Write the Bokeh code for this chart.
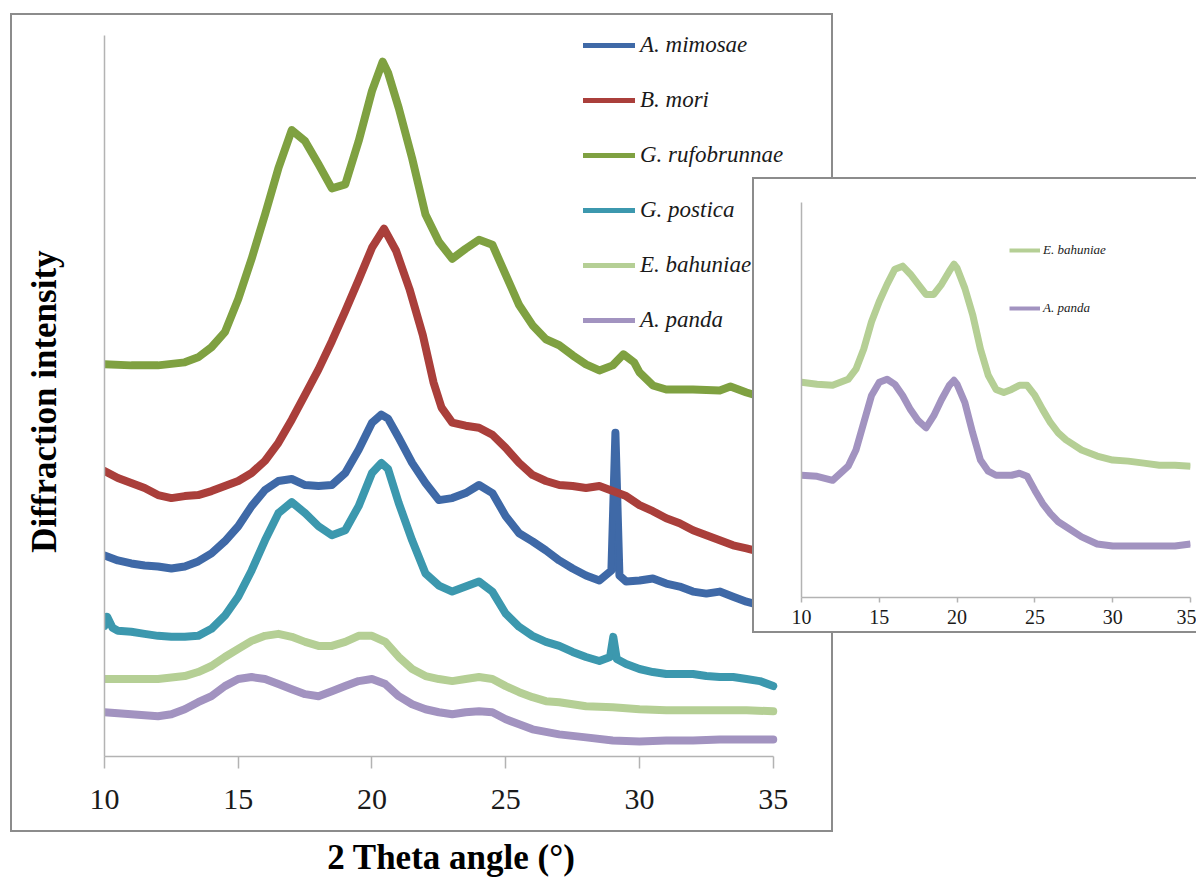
from bokeh.plotting import figure
from bokeh.models import Range1d, FixedTicker, Legend, LegendItem, Div
from bokeh.embed import file_html
from bokeh.resources import INLINE

FONT = "Liberation Serif"

# ---------------- main chart data (2 theta in degrees, intensity in a.u.) ----------------
mimosae_x = [10, 10.5, 11, 11.5, 12, 12.5, 13, 13.5, 14, 14.5, 15, 15.5, 16, 16.5, 17, 17.5, 18, 18.5,
             19, 19.5, 20, 20.35, 20.6, 21, 21.5, 22, 22.5, 23, 23.5, 24, 24.5, 25, 25.5, 26, 26.5, 27,
             27.5, 28, 28.5, 28.95, 29.1, 29.25, 29.5, 30, 30.5, 31, 31.5, 32, 32.5, 33, 33.5, 34, 35]
mimosae_y = [200, 195, 192, 190, 189, 187, 189, 194, 202, 214, 229, 249, 265, 274, 276, 270, 269, 270,
             282, 305, 332, 340, 336, 317, 292, 272, 255, 257, 262, 270, 262, 239, 222, 214, 205, 195,
             187, 180, 175, 185, 322, 180, 174, 175, 177, 172, 169, 164, 162, 164, 159, 154, 147]

mori_x = [10, 10.5, 11, 11.5, 12, 12.5, 13, 13.5, 14, 14.5, 15, 15.5, 16, 16.5, 17, 17.5, 18, 18.5, 19,
          19.5, 20, 20.45, 20.9, 21.4, 21.9, 22.3, 22.6, 23, 23.5, 24, 24.5, 25, 25.5, 26, 26.5, 27, 27.5,
          28, 28.5, 29, 29.5, 30, 30.5, 31, 31.5, 32, 32.5, 33, 33.5, 34, 35]
mori_y = [284, 277, 272, 267, 260, 257, 259, 260, 264, 269, 274, 282, 294, 312, 335, 360, 385, 413, 443,
          474, 506, 525, 503, 465, 419, 372, 347, 332, 329, 327, 320, 307, 292, 280, 274, 270, 269,
          267, 269, 264, 259, 250, 244, 237, 232, 225, 220, 215, 210, 207, 200]

rufobrunnae_x = [10, 11, 12, 13, 13.5, 14, 14.5, 15, 15.5, 16, 16.5, 17, 17.5, 18, 18.5, 19, 19.5, 20,
                 20.4, 20.6, 21, 21.5, 22, 22.5, 23, 23.5, 24, 24.5, 25, 25.5, 26, 26.5, 27, 27.5, 28,
                 28.5, 29, 29.4, 29.8, 30, 30.5, 31, 32, 33, 33.4, 34, 34.5, 35]
rufobrunnae_y = [390, 389, 389, 392, 397, 407, 422, 455, 495, 539, 585, 623, 612, 589, 565, 569, 612, 662,
                 691, 680, 645, 595, 539, 512, 495, 505, 514, 509, 479, 449, 429, 415, 409, 399, 390,
                 384, 389, 400, 392, 382, 369, 365, 365, 364, 368, 362, 358, 354]

postica_x = [10, 10.1, 10.3, 10.5, 11, 11.5, 12, 12.5, 13, 13.5, 14, 14.5, 15, 15.5, 16, 16.5, 17, 17.5,
             18, 18.5, 19, 19.5, 20, 20.35, 20.6, 21, 21.5, 22, 22.5, 23, 23.5, 24, 24.5, 25, 25.5, 26,
             26.5, 27, 27.5, 28, 28.5, 28.9, 29.02, 29.15, 29.5, 30, 30.5, 31, 31.5, 32, 32.5, 33, 33.5,
             34, 34.5, 35]
postica_y = [130, 139, 128, 125, 124, 122, 120, 119, 119, 120, 127, 140, 159, 185, 215, 242, 253, 242,
             229, 220, 225, 249, 282, 292, 286, 252, 215, 182, 170, 164, 169, 174, 164, 142, 129, 120,
             114, 110, 104, 99, 95, 99, 119, 97, 92, 87, 84, 82, 82, 82, 80, 79, 79,
             77, 75, 70]

bahuniae_x = [10, 11, 12, 13, 13.5, 14, 14.5, 15, 15.5, 16, 16.5, 17, 17.5, 18, 18.5, 19, 19.5, 20, 20.5,
              21, 21.5, 22, 22.5, 23, 23.5, 24, 24.5, 25, 25.5, 26, 26.5, 27, 28, 29, 30, 31, 32, 33, 34, 35]
bahuniae_y = [77, 77, 77, 80, 84, 90, 99, 107, 115, 120, 122, 119, 114, 110, 110, 114, 120, 120, 114,
              99, 87, 80, 77, 75, 77, 79, 77, 70, 64, 59, 55, 54, 50, 49, 47, 46, 46, 46, 46, 45]

panda_x = [10, 11, 12, 12.5, 13, 13.5, 14, 14.5, 15, 15.5, 16, 16.5, 17, 17.5, 18, 18.5, 19, 19.5, 20,
           20.5, 21, 21.5, 22, 22.5, 23, 23.5, 24, 24.5, 25, 25.5, 26, 27, 28, 29, 30, 31, 32, 33, 34, 35]
panda_y = [44, 42, 40, 42, 47, 54, 60, 70, 77, 79, 77, 72, 67, 62, 60, 65, 70, 75, 77,
           72, 60, 52, 47, 44, 42, 44, 45, 44, 37, 32, 27, 22, 19, 16, 15, 16, 16, 17, 17, 17]

# ---------------- inset data ----------------
inset_x = [10, 11, 12, 13, 13.5, 14, 14.5, 15, 15.5, 16, 16.5, 17, 17.5, 18, 18.5, 19, 19.5, 19.8, 20,
           20.5, 21, 21.5, 22, 22.5, 23, 23.5, 24, 24.5, 25, 25.5, 26, 26.5, 27, 28, 29, 30, 31, 32,
           33, 34, 35]
inset_bahuniae_y = [213, 211, 210, 216, 226, 246, 273, 293, 310, 325, 328, 320, 310, 300, 300, 310, 323,
                    330, 326, 306, 280, 246, 220, 206, 203, 206, 210, 210, 200, 186, 173, 163, 156, 146,
                    140, 136, 135, 133, 131, 131, 130]
inset_panda_y = [121, 120, 116, 130, 146, 173, 200, 213, 216, 211, 200, 186, 175, 168, 180, 196, 210,
                 215, 211, 193, 163, 136, 125, 121, 121, 121, 123, 120, 106, 93, 83, 75, 70, 60, 53, 51,
                 51, 51, 51, 51, 53]

x_ticks = [10, 15, 20, 25, 30, 35]

labels = ["A. mimosae", "B. mori", "G. rufobrunnae", "G. postica", "E. bahuniae", "A. panda"]
colors = ["#3f69a7", "#aa3f3b", "#7fa141", "#3c98ae", "#b5cf95", "#a293c0"]
series_x = [mimosae_x, mori_x, rufobrunnae_x, postica_x, bahuniae_x, panda_x]
series_y = [mimosae_y, mori_y, rufobrunnae_y, postica_y, bahuniae_y, panda_y]

AXIS_GREY = "#b3b3b3"
BOX = "2px solid #8c8c8c"

# the main frame is enlarged to the right and top (room for the legend);
# the axes themselves still span 10..35 and 0..717
MAIN_FRAME_W = 711
main_x_end = 10 + 25 * MAIN_FRAME_W / 665
MAIN_Y_TOP = 732


def style_axes(p, tick_size, tick_out, standoff):
    p.title.visible = False
    p.xgrid.grid_line_color = None
    p.ygrid.grid_line_color = None
    p.outline_line_color = None
    p.xaxis.ticker = FixedTicker(ticks=x_ticks)
    p.xaxis.bounds = (10, 35)
    p.xaxis.axis_line_color = AXIS_GREY
    p.xaxis.axis_line_width = 1.5
    p.xaxis.major_tick_line_color = AXIS_GREY
    p.xaxis.major_tick_line_width = 1.5
    p.xaxis.major_tick_in = 0
    p.xaxis.major_tick_out = tick_out
    p.xaxis.minor_tick_line_color = None
    p.xaxis.major_label_text_font = FONT
    p.xaxis.major_label_text_font_size = tick_size
    p.xaxis.major_label_text_color = "#1a1a1a"
    p.xaxis.major_label_standoff = standoff
    p.yaxis.ticker = FixedTicker(ticks=[])
    p.yaxis.axis_line_color = AXIS_GREY
    p.yaxis.axis_line_width = 1.5
    p.yaxis.major_tick_line_color = None
    p.yaxis.minor_tick_line_color = None


# ---------------- main figure ----------------
main = figure(width=823, height=819, output_backend="svg", toolbar_location=None,
              x_range=Range1d(10, main_x_end), y_range=Range1d(0, MAIN_Y_TOP),
              min_border_left=92, min_border_right=16, min_border_top=5, min_border_bottom=78,
              background_fill_color="white", border_fill_color="white",
              styles={"border": BOX}, margin=(13, 0, 0, 10))
style_axes(main, "30px", 12, 21)
main.yaxis.bounds = (0, 717)
# trailing no-break spaces move the centred title a little downwards, as in the original
main.yaxis.axis_label = "Diffraction intensity\u00a0\u00a0\u00a0"
main.yaxis.axis_label_text_font = FONT
main.yaxis.axis_label_text_font_style = "bold"
main.yaxis.axis_label_text_font_size = "35px"
main.yaxis.axis_label_text_color = "black"
main.yaxis.axis_label_standoff = 41

items = []
for lab, col, xs, ys in zip(labels, colors, series_x, series_y):
    main.line(xs, ys, line_color=col, line_width=8, line_join="round", line_cap="round")
    # a thinner stroke of the same series on top: invisible on the curve, gives a slimmer legend key
    key = main.line(xs, ys, line_color=col, line_width=5, line_join="round", line_cap="round")
    items.append(LegendItem(label=lab, renderers=[key]))

leg = Legend(items=items, location=(479, 423), background_fill_alpha=0, border_line_color=None,
             padding=0, margin=0, spacing=29, glyph_width=52, glyph_height=26, label_height=26,
             label_standoff=5, label_text_font=FONT, label_text_font_style="italic",
             label_text_font_size="23px", label_text_color="#1a1a1a")
main.add_layout(leg)

# ---------------- inset figure (a separate root, laid over the main chart) ----------------
inset = figure(width=444, height=456, output_backend="svg", toolbar_location=None,
               x_range=Range1d(10, 35), y_range=Range1d(0, 391),
               min_border_left=47, min_border_right=8, min_border_top=23, min_border_bottom=38,
               background_fill_color="white", border_fill_color="white",
               styles={"border": BOX, "border-right": "none", "background-color": "white",
                       "position": "absolute", "left": "752px", "top": "177px", "z-index": "5"},
               margin=0)
style_axes(inset, "20px", 5, 7)

inset.line(inset_x, inset_bahuniae_y, line_color=colors[4], line_width=7, line_join="round")
inset.line(inset_x, inset_panda_y, line_color=colors[5], line_width=7, line_join="round")
k1 = inset.line(inset_x, inset_bahuniae_y, line_color=colors[4], line_width=4, line_join="round")
k2 = inset.line(inset_x, inset_panda_y, line_color=colors[5], line_width=4, line_join="round")
leg2 = Legend(items=[LegendItem(label=labels[4], renderers=[k1]), LegendItem(label=labels[5], renderers=[k2])],
              location=(208, 281), background_fill_alpha=0, border_line_color=None, padding=0, margin=0,
              spacing=42, glyph_width=31, glyph_height=16, label_height=16, label_standoff=3,
              label_text_font=FONT, label_text_font_style="italic", label_text_font_size="13px",
              label_text_color="#1a1a1a")
inset.add_layout(leg2)

xtitle = Div(text="2 Theta angle (°)", width=600, height=44, margin=(6, 0, 0, 151),
             styles={"font-family": FONT, "font-weight": "bold", "font-size": "35px",
                     "text-align": "center", "line-height": "40px", "color": "black"})

open("out.html", "w").write(file_html([main, xtitle, inset], INLINE))
